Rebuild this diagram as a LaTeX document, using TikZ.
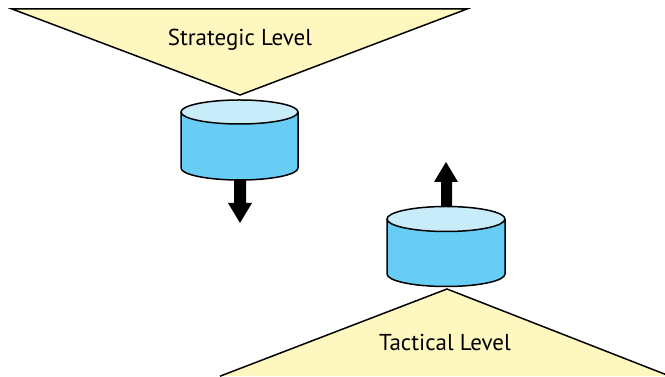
\documentclass[tikz,border=0pt]{standalone}
\usepackage{fontspec}
\setmainfont{PT Sans}
\definecolor{lvlyellow}{RGB}{255,247,192}
\definecolor{cylside}{RGB}{104,205,245}
\definecolor{cyltop}{RGB}{200,236,250}
\tikzset{
  level/.style={draw=black, line width=1.5pt, fill=lvlyellow, line join=miter},
  cylbody/.style={draw=black, line width=1.5pt, fill=cylside},
  cyltopst/.style={draw=black, line width=1.5pt, fill=cyltop},
  blockarrow/.style={fill=black, draw=none},
  lbl/.style={font=\fontsize{23}{26}\selectfont, text=black, inner sep=0pt}
}
\begin{document}
\begin{tikzpicture}[x=1pt,y=1pt]
\useasboundingbox (0,0) rectangle (665,377);
% strategic level
\draw[level] (12,368) -- (467,368) -- (240,282) -- cycle;
\node[lbl] (strat) at (240,337) {Strategic Level};
% tactical level
\draw[level] (220,0.8) -- (447,88) -- (670,0.8);
\node[lbl] (tact) at (445,35) {Tactical Level};
% down arrow
\fill[blockarrow] (234,200) -- (234,174) -- (228,174) -- (240,154) -- (252,174) -- (246,174) -- (246,200) -- cycle;
% up arrow
\fill[blockarrow] (441,168) -- (441,195) -- (434,195) -- (446,215) -- (458,195) -- (452,195) -- (452,168) -- cycle;
% top cylinder
\draw[cylbody] (181,265) -- (181,209) arc (180:360:58.5 and 12) -- (298,265);
\draw[cyltopst] (239.5,265) ellipse (58.5 and 12);
\coordinate (cylA) at (239.5,237);
% bottom cylinder
\draw[cylbody] (387,158) -- (387,103) arc (180:360:59 and 12.5) -- (505,158);
\draw[cyltopst] (446,158) ellipse (59 and 12.5);
\coordinate (cylB) at (446,130);
\end{tikzpicture}
\end{document}
